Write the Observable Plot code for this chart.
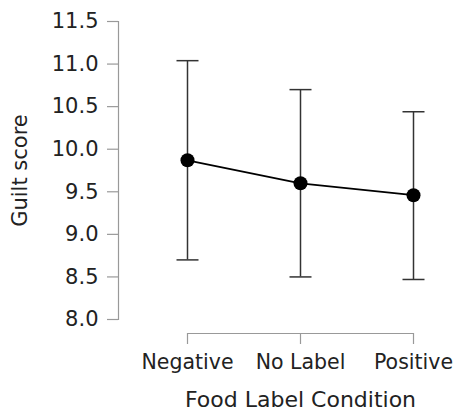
<!DOCTYPE html>
<html>
<head>
<meta charset="utf-8">
<script src="https://cdn.jsdelivr.net/npm/d3@7"></script>
<script src="https://cdn.jsdelivr.net/npm/@observablehq/plot@0.6"></script>
<style>
  html, body { margin: 0; padding: 0; background: #fff; }
  svg { display: block; }
</style>
</head>
<body>
<div id="chart"></div>
<script>
const conditions = ["Negative", "No Label", "Positive"];
const means = [9.87, 9.60, 9.46];
const lower = [8.70, 8.50, 8.47];
const upper = [11.04, 10.70, 10.44];
const yTicks = [8.0, 8.5, 9.0, 9.5, 10.0, 10.5, 11.0, 11.5];
const xTitle = "Food Label Condition";
const yTitle = "Guilt score";

const data = conditions.map((c, i) => ({cond: c, mean: means[i], lo: lower[i], hi: upper[i]}));

const font = "DejaVu Sans";
const axisColor = "#999";
const textColor = "#222";
const yMin = yTicks[0];
const first = conditions[0];
const last = conditions[conditions.length - 1];

// horizontal cap symbol for error bars
const capSymbol = {
  draw(context, size) {
    const r = Math.sqrt(size / Math.PI);
    context.moveTo(-r, 0);
    context.lineTo(r, 0);
  }
};

const chart = Plot.plot({
  width: 459,
  height: 412,
  marginTop: 21,
  marginBottom: 93,
  marginLeft: 118,
  marginRight: 46,
  style: {fontFamily: font, background: "#fff"},
  x: {type: "point", domain: conditions, padding: 0, insetLeft: 69, axis: null},
  y: {domain: [yTicks[0], yTicks[yTicks.length - 1]], axis: null},
  marks: [
    Plot.frame({anchor: "left", stroke: axisColor, strokeWidth: 1.2}),
    Plot.axisY({
      ticks: yTicks, tickSize: 11, tickPadding: 9, stroke: axisColor, strokeWidth: 1.2,
      tickFormat: d3.format(".1f"), fontSize: 21, fill: textColor,
      label: null
    }),
    Plot.text([yTitle], {
      frameAnchor: "left", textAnchor: "middle", rotate: -90, dx: -98, fontSize: 21, fill: textColor
    }),
    Plot.ruleY([yMin], {x1: () => first, x2: () => last, dy: 14, stroke: axisColor, strokeWidth: 1.2}),
    Plot.ruleX(conditions, {x: d => d, y1: () => yMin, y2: () => yMin, dy: 14, insetBottom: -11, stroke: axisColor, strokeWidth: 1.2}),
    Plot.text(conditions, {x: d => d, y: () => yMin, dy: 43, fontSize: 20.5, fill: textColor}),
    Plot.text([xTitle], {x: () => conditions[1], y: () => yMin, dy: 80, fontSize: 22, fill: textColor}),
    Plot.ruleX(data, {x: "cond", y1: "lo", y2: "hi", stroke: "#333", strokeWidth: 1.5}),
    Plot.dot(data, {x: "cond", y: "hi", symbol: capSymbol, r: 11, fill: "none", stroke: "#333", strokeWidth: 1.5}),
    Plot.dot(data, {x: "cond", y: "lo", symbol: capSymbol, r: 11, fill: "none", stroke: "#333", strokeWidth: 1.5}),
    Plot.line(data, {x: "cond", y: "mean", stroke: "#000", strokeWidth: 1.8}),
    Plot.dot(data, {x: "cond", y: "mean", r: 7, fill: "#000", stroke: "none"})
  ]
});
document.getElementById("chart").appendChild(chart);
</script>
</body>
</html>
